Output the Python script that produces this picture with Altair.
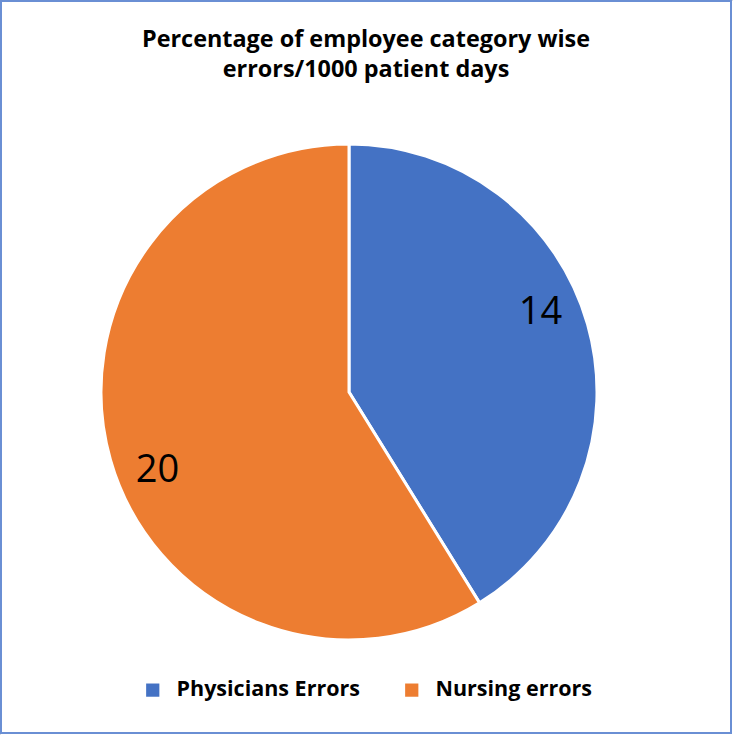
import altair as alt
import pandas as pd

categories = ["Physicians Errors", "Nursing errors"]
values = [14, 20]
colors = ["#4472C4", "#ED7D31"]
title_lines = ["Percentage of employee category wise", "errors/1000 patient days"]

W, H = 733, 735
cx, cy, R = 349, 392, 248

df = pd.DataFrame({"category": categories, "value": values, "order": list(range(len(categories)))})

base = alt.Chart(df).encode(
    theta=alt.Theta("value:Q", stack=True),
    order=alt.Order("order:Q"),
)

pie = base.mark_arc(outerRadius=R, stroke="white", strokeWidth=3).encode(
    x=alt.value(cx),
    y=alt.value(cy),
    color=alt.Color(
        "category:N",
        scale=alt.Scale(domain=categories, range=colors),
        sort=categories,
        legend=alt.Legend(
            title=None,
            orient="none",
            legendX=142,
            legendY=679,
            direction="horizontal",
            symbolType="square",
            symbolSize=175,
            symbolStrokeWidth=0,
            labelFont="Open Sans",
            labelFontSize=21.5,
            labelFontWeight="bold",
            labelColor="black",
            labelOffset=13,
            labelLimit=400,
            columnPadding=41,
        ),
    ),
)

labels = base.mark_text(
    radius=207, thetaOffset=-0.113, fontSize=38, font="Open Sans", color="black"
).encode(
    x=alt.value(cx),
    y=alt.value(cy),
    text="value:Q",
)

title = alt.Chart(pd.DataFrame({"t": [0]})).mark_text(
    text=title_lines,
    font="Open Sans",
    fontSize=23.4,
    fontWeight="bold",
    color="black",
    lineHeight=30,
    baseline="alphabetic",
).encode(x=alt.value(366), y=alt.value(47))

border = alt.Chart(pd.DataFrame({"t": [0]})).mark_rect(
    fillOpacity=0, stroke="#6A8FD4", strokeWidth=2
).encode(x=alt.value(1), x2=alt.value(731), y=alt.value(1), y2=alt.value(733))

chart = alt.layer(border, pie, labels, title).properties(
    width=W, height=H, autosize=alt.AutoSizeParams(type="none"), padding=0
).configure_view(stroke=None).configure(background="white")

chart.save("out.html", embed_options={"renderer": "svg", "actions": False})
